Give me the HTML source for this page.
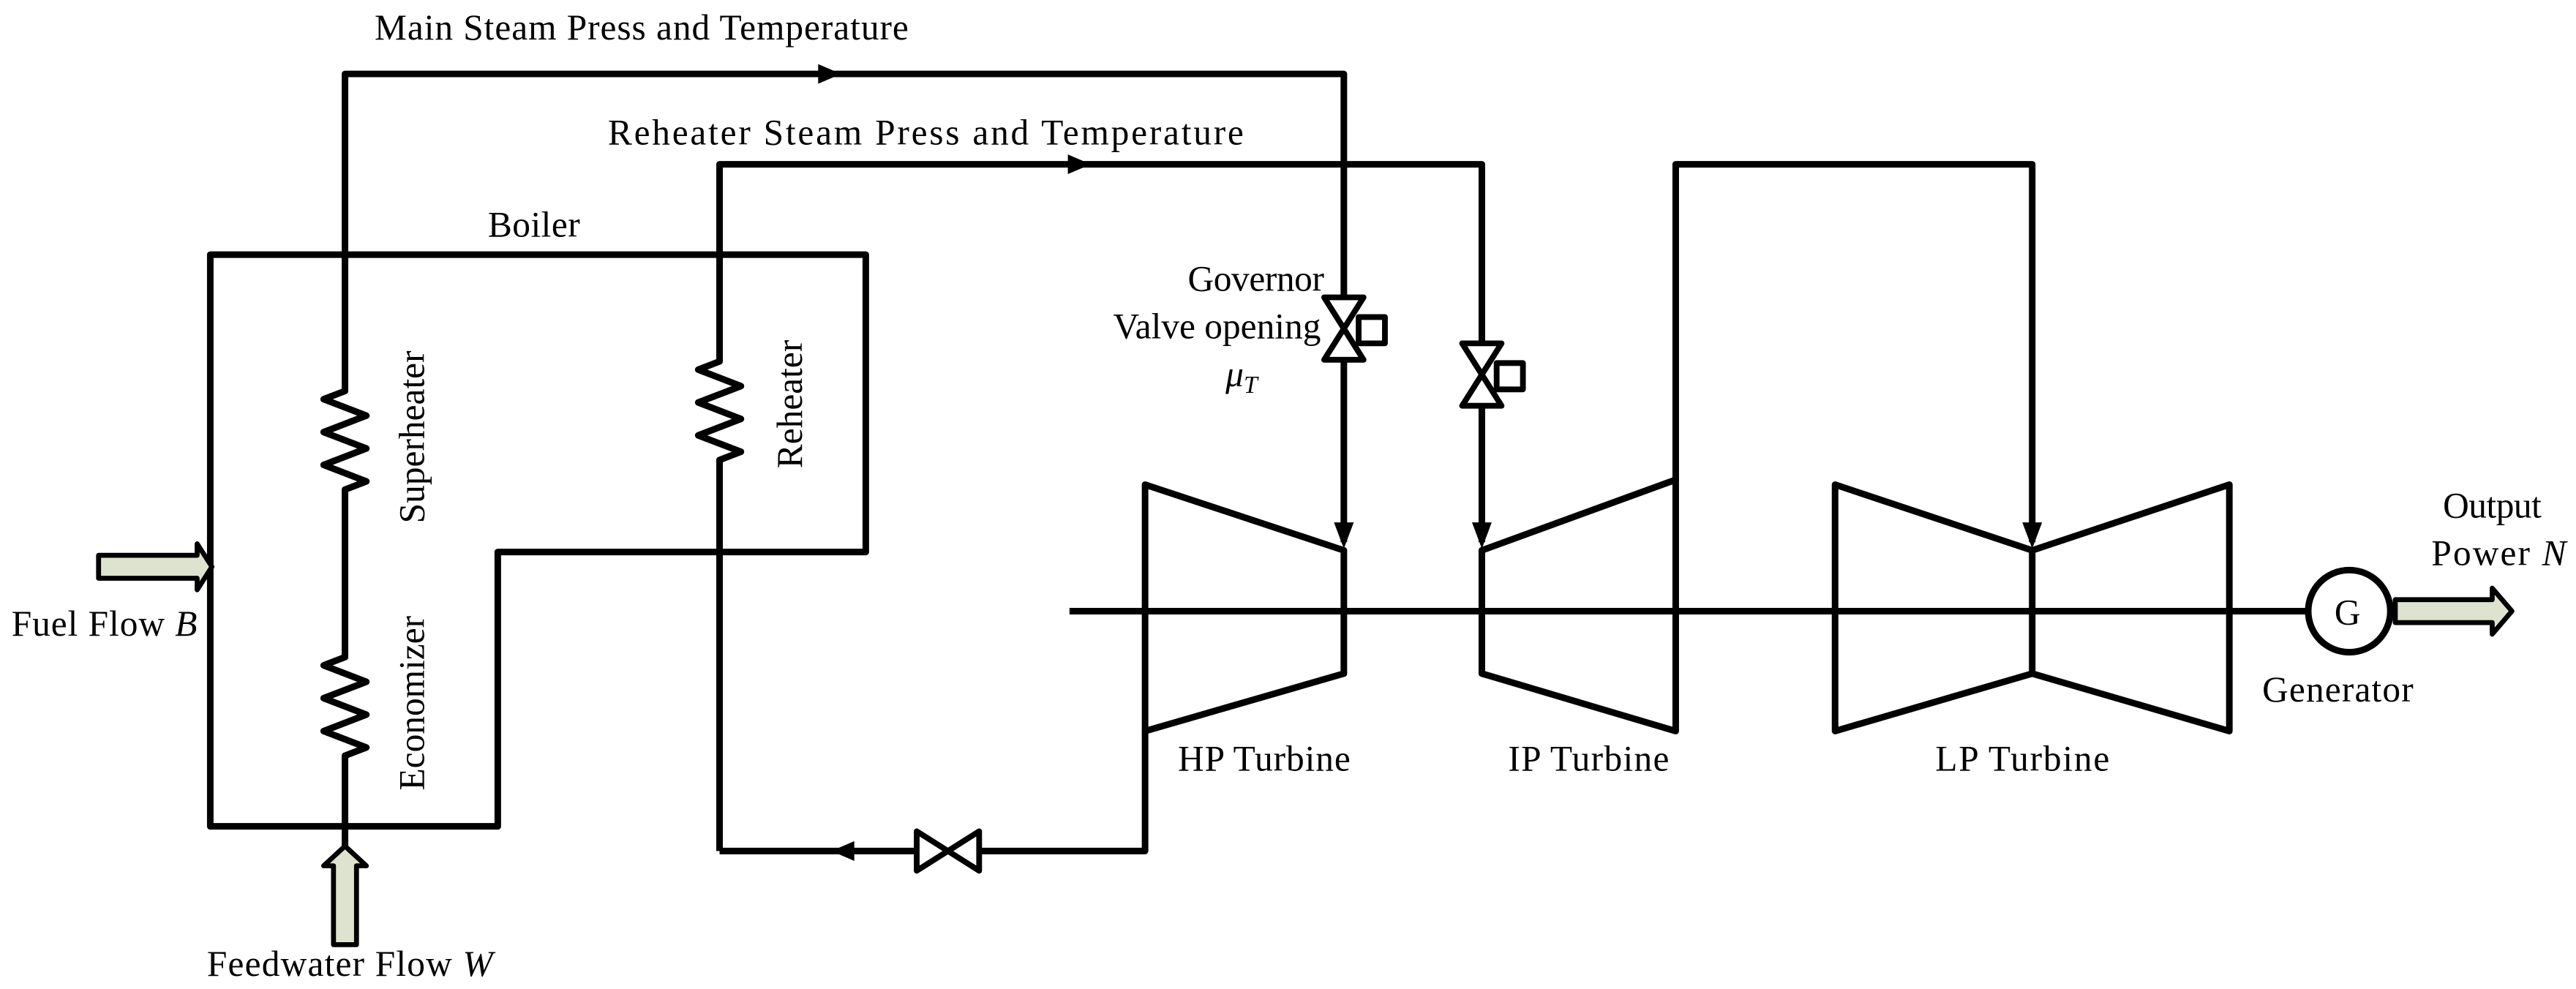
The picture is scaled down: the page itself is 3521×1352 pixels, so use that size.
<!DOCTYPE html>
<html><head><meta charset="utf-8"><style>
html,body{margin:0;padding:0;background:#fff;}
svg{display:block;}
text{font-family:"Liberation Serif",serif;font-size:22px;fill:#000;}
</style></head><body>
<svg width="3521" height="1352" viewBox="0 0 1568 602" preserveAspectRatio="none" xmlns="http://www.w3.org/2000/svg">
<g fill="none" stroke="#000" stroke-width="4" stroke-linejoin="round">
<path d="M128,155 H527 V336 H303 V503 H128 Z"/>
<path d="M210,517 V460 l13,-5 l-26,-10 l26,-10 l-26,-10 l26,-10 l-26,-10 l13,-5 V298 l13,-5 l-26,-10 l26,-10 l-26,-10 l26,-10 l-26,-10 l13,-5 V45 H818 V330"/>
<path d="M438,518 V280 l13,-5 l-26,-10 l26,-10 l-26,-10 l26,-10 l-26,-10 l13,-5 V100 H902 V330"/>
<path d="M438,518 H697 V445"/>
<path d="M697,295 L818,335 V410 L697,445 Z"/>
<path d="M902,335 L1020,292 V445 L902,410 Z"/>
<path d="M1020,292 V100 H1237 V330"/>
<path d="M1117,295 L1237,335 L1357,295 V445 L1237,410 L1117,445 Z"/>
<path d="M1237,335 V410"/>
<path d="M651,372 H1405"/>
<circle cx="1430" cy="372" r="25" fill="#fff"/>
<path d="M806,181 H830 L806,219 H830 Z" fill="#fff" stroke-width="3.5"/>
<rect x="827" y="193" width="16" height="16" stroke-width="3.5" fill="#fff"/>
<path d="M890,209 H914 L890,247 H914 Z" fill="#fff" stroke-width="3.5"/>
<rect x="911" y="221" width="16" height="16" stroke-width="3.5" fill="#fff"/>
<path d="M558,506 V530 L596,506 V530 Z" fill="#fff" stroke-width="3.5"/>
<path d="M60,338 H120 V331 L129,345 L120,359 V352 H60 Z" fill="#dde3cf" stroke-width="3"/>
<path d="M203,575 V527 H197 L210,515 L223,527 H217 V575 Z" fill="#dde3cf" stroke-width="3"/>
<path d="M1458,365 H1517 V358 L1529,372 L1517,386 V379 H1458 Z" fill="#dde3cf" stroke-width="3"/>
</g>
<g fill="#000">
<path d="M512,45 l-14,-6 v12 z"/>
<path d="M664,100 l-14,-6 v12 z"/>
<path d="M506,518 l14,-6 v12 z"/>
<path d="M818,334 l-6,-16 h12 z"/>
<path d="M902,334 l-6,-16 h12 z"/>
<path d="M1237,334 l-6,-16 h12 z"/>
</g>
<text x="228" y="24" textLength="325">Main Steam Press and Temperature</text>
<text x="370" y="88" textLength="387">Reheater Steam Press and Temperature</text>
<text x="297" y="144" textLength="56">Boiler</text>
<text x="723" y="177" textLength="83">Governor</text>
<text x="804" y="206" font-size="19" text-anchor="end">Valve opening</text>
<text x="746" y="235" font-style="italic">μ<tspan font-size="15" dy="4">T</tspan></text>
<text transform="translate(258,266) rotate(-90)" text-anchor="middle">Superheater</text>
<text transform="translate(258,428) rotate(-90)" text-anchor="middle">Economizer</text>
<text transform="translate(488,246) rotate(-90)" text-anchor="middle">Reheater</text>
<text x="7" y="387" textLength="113">Fuel Flow <tspan font-style="italic">B</tspan></text>
<text x="126" y="594" textLength="174">Feedwater Flow <tspan font-style="italic">W</tspan></text>
<text x="717" y="469" textLength="105">HP Turbine</text>
<text x="918" y="469" textLength="98">IP Turbine</text>
<text x="1178" y="469" textLength="106">LP Turbine</text>
<text x="1377" y="427" textLength="92">Generator</text>
<text x="1487" y="315" textLength="60">Output</text>
<text x="1480" y="344" textLength="82">Power <tspan font-style="italic">N</tspan></text>
<text x="1421" y="380" font-size="22">G</text>
</svg>
</body></html>
